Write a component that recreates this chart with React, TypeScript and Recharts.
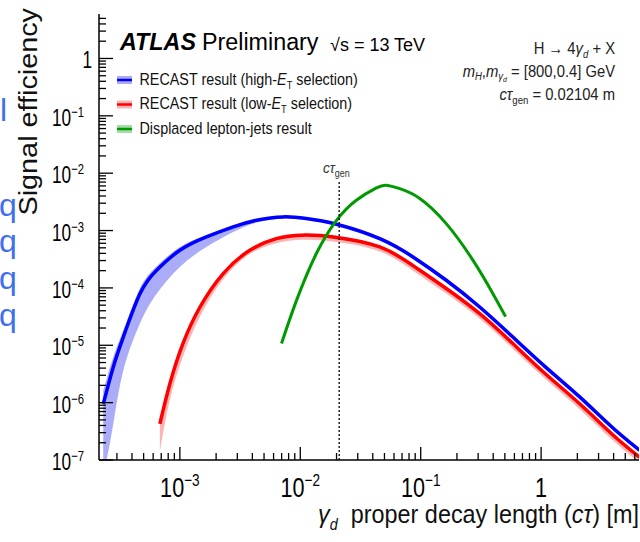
import {
  ComposedChart,
  Line,
  Area,
  XAxis,
  YAxis,
  ReferenceLine
} from "recharts"

const FONT = "'Liberation Sans', Arial, Helvetica, sans-serif"

// RECAST result, high-ET selection (central value + band)
const blueX = [2.31e-4, 2.8e-4, 3.39e-4, 4.66e-4, 6.41e-4, 1.0e-3, 1.66e-3, 2.77e-3, 4.33e-3, 7.19e-3, 1.12e-2, 2.0e-2, 4.57e-2, 8.63e-2, 0.163, 0.309, 0.583, 1.09, 2.09, 3.89, 6.56]
const blueY = [9.5e-7, 4.2e-6, 1.39e-5, 7.9e-5, 2.03e-4, 4.53e-4, 7.74e-4, 1.16e-3, 1.51e-3, 1.73e-3, 1.62e-3, 1.29e-3, 7.24e-4, 3.47e-4, 1.36e-4, 4.65e-5, 1.39e-5, 4.17e-6, 1.26e-6, 3.72e-7, 1.48e-7]
const blueLow = [5e-8, 4.3e-7, 3.63e-6, 2.4e-5, 7.94e-5, 2.32e-4, 5.18e-4, 9.46e-4, 1.38e-3, 1.62e-3, 1.52e-3, 1.2e-3, 6.7e-4, 3.2e-4, 1.25e-4, 4.3e-5, 1.28e-5, 3.85e-6, 1.16e-6, 3.42e-7, 1.36e-7]
const blueHigh = [1.62e-6, 6.3e-6, 1.82e-5, 9.8e-5, 2.38e-4, 5.18e-4, 8.3e-4, 1.2e-3, 1.58e-3, 1.82e-3, 1.7e-3, 1.36e-3, 7.7e-4, 3.7e-4, 1.45e-4, 4.95e-5, 1.48e-5, 4.45e-6, 1.35e-6, 3.98e-7, 1.58e-7]

// RECAST result, low-ET selection
const redX = [6.82e-4, 8.26e-4, 1.06e-3, 1.47e-3, 2.29e-3, 3.81e-3, 6.34e-3, 1.05e-2, 2.0e-2, 4.57e-2, 8.63e-2, 0.163, 0.309, 0.583, 1.09, 2.09, 3.89, 6.56]
const redY = [4.27e-7, 2.14e-6, 1.07e-5, 4.65e-5, 1.78e-4, 4.53e-4, 7.24e-4, 8.32e-4, 7.59e-4, 5.18e-4, 2.45e-4, 9.77e-5, 3.55e-5, 1.07e-5, 3.16e-6, 9.55e-7, 2.82e-7, 1.12e-7]
const redLow = [1.4e-7, 1.12e-6, 6.3e-6, 3.16e-5, 1.41e-4, 3.9e-4, 6.0e-4, 6.9e-4, 6.3e-4, 4.3e-4, 2.0e-4, 8.0e-5, 2.9e-5, 8.7e-6, 2.55e-6, 7.7e-7, 2.25e-7, 8.9e-8]
const redHigh = [5.0e-7, 2.4e-6, 1.17e-5, 5.0e-5, 1.9e-4, 4.8e-4, 7.8e-4, 8.9e-4, 8.1e-4, 5.5e-4, 2.6e-4, 1.03e-4, 3.7e-5, 1.12e-5, 3.3e-6, 1.0e-6, 2.95e-7, 1.18e-7]

// displaced lepton-jets result
const greenX = [6.98e-3, 9.29e-3, 1.36e-2, 2.0e-2, 2.92e-2, 4.29e-2, 5.19e-2, 6.7e-2, 9.82e-2, 0.163, 0.272, 0.398, 0.507]
const greenY = [1.07e-5, 6.0e-5, 3.98e-4, 1.51e-3, 3.38e-3, 5.55e-3, 6.17e-3, 5.37e-3, 3.63e-3, 1.32e-3, 3.02e-4, 7.94e-5, 3.16e-5]

const xMajorTicks = [0.001, 0.01, 0.1, 1]
const yMajorTicks = [1e-7, 1e-6, 1e-5, 1e-4, 1e-3, 1e-2, 1e-1, 1]
const minorSteps = [2, 3, 4, 5, 6, 7, 8, 9]

const xDomain = [2.13e-4, 6.5]
const yDomain = [1e-7, 5.96]
const ctauGen = 0.02104
const ctauLineTop = 7.6e-3

const blueRows = blueX.map((x, i) => ({ x, y: blueY[i], band: [blueLow[i], blueHigh[i]] }))
const redRows = redX.map((x, i) => ({ x, y: redY[i], band: [redLow[i], redHigh[i]] }))
const greenRows = greenX.map((x, i) => ({ x, y: greenY[i] }))

function withMinor(majors: number[], lo: number, hi: number) {
  const out: number[] = []
  ;[majors[0] / 10, ...majors].forEach(d => {
    if (d >= lo && d <= hi) out.push(d)
    minorSteps.forEach(m => {
      const v = d * m
      if (v >= lo && v <= hi) out.push(v)
    })
  })
  return out
}

const xTicks = withMinor(xMajorTicks, xDomain[0], xDomain[1])
const yTicks = withMinor(yMajorTicks, yDomain[0], yDomain[1])

const isDecade = (v: number) => Math.abs(Math.log10(v) - Math.round(Math.log10(v))) < 1e-9

// text squeezed horizontally like the original picture
function T({ x, y, size, sx = 1, anchor = "start", weight = 400, italic = false, color = "#111", children }: any) {
  return (
    <g transform={`translate(${x},${y}) scale(${sx},1)`}>
      <text
        x={0}
        y={0}
        fontSize={size}
        fontFamily={FONT}
        textAnchor={anchor}
        fontWeight={weight}
        fontStyle={italic ? "italic" : "normal"}
        fill={color}
      >
        {children}
      </text>
    </g>
  )
}

function powLabel(v: number, sup: number, dy: number) {
  const e = Math.round(Math.log10(v))
  if (e === 0) return "1"
  return (
    <>
      10<tspan dy={-dy} fontSize={sup}>{"\u2212" + Math.abs(e)}</tspan>
    </>
  )
}

const LeftTick = (p: any) => {
  const { x, y, payload } = p
  const major = isDecade(payload.value)
  const one = Math.abs(payload.value - 1) < 1e-9
  return (
    <g>
      <line x1={x} x2={x + (major ? 14 : 7)} y1={y} y2={y} stroke="#000" strokeWidth={1.3} />
      {major && (
        <T x={one ? x - 7 : x - 15} y={y + 10} size={23} sx={0.75} anchor="end" color="#000">
          {powLabel(payload.value, 15, 9)}
        </T>
      )}
    </g>
  )
}

const RightTick = (p: any) => {
  const { x, y, payload } = p
  const major = isDecade(payload.value)
  return <line x1={x} x2={x - (major ? 14 : 7)} y1={y} y2={y} stroke="#000" strokeWidth={1.3} />
}

const BottomTick = (p: any) => {
  const { x, y, payload } = p
  const major = isDecade(payload.value)
  return (
    <g>
      <line x1={x} x2={x} y1={y} y2={y - (major ? 13 : 7)} stroke="#000" strokeWidth={1.3} />
      {major && (
        <T x={x} y={y + 36.5} size={27} sx={0.8} anchor="middle" color="#000">
          {powLabel(payload.value, 17, 11)}
        </T>
      )}
    </g>
  )
}

const TopTick = (p: any) => {
  const { x, y, payload } = p
  const major = isDecade(payload.value)
  return <line x1={x} x2={x} y1={y} y2={y + (major ? 13 : 7)} stroke="#000" strokeWidth={1.3} />
}

function LegendRow({ y, line, band, children }: any) {
  return (
    <g>
      <rect x={117} y={y - 4} width={15} height={8} fill={band} />
      <line x1={117} x2={132} y1={y} y2={y} stroke={line} strokeWidth={2.5} />
      <T x={139.5} y={y + 4.5} size={17} sx={0.844}>
        {children}
      </T>
    </g>
  )
}

const BLUE = "#0000ff"
const RED = "#ff0000"
const GREEN = "#009a00"
const BLUE_BAND = "#aaacf8"
const RED_BAND = "#ffb4b4"
const ARTIFACT = "#3f6ff0"

export default function App() {
  return (
    <div style={{ position: "fixed", left: 0, top: 0, width: 640, height: 542, background: "#fff" }}>

      <ComposedChart width={640} height={542} margin={{ top: 14, right: 1, bottom: 0, left: 0 }}>

        <XAxis
          dataKey="x"
          type="number"
          scale="log"
          domain={xDomain}
          allowDataOverflow
          ticks={xTicks}
          interval={0}
          height={82}
          tickSize={0}
          tickMargin={0}
          tickLine={false}
          tick={<BottomTick />}
          axisLine={{ stroke: "#000", strokeWidth: 1.5 }}
        />
        <XAxis
          xAxisId="top"
          orientation="top"
          dataKey="x"
          type="number"
          scale="log"
          domain={xDomain}
          allowDataOverflow
          ticks={xTicks}
          interval={0}
          height={0}
          tickSize={0}
          tickMargin={0}
          tickLine={false}
          tick={<TopTick />}
          axisLine={{ stroke: "#000", strokeWidth: 1.5 }}
        />
        <YAxis
          type="number"
          scale="log"
          domain={yDomain}
          allowDataOverflow
          ticks={yTicks}
          interval={0}
          width={99}
          tickSize={0}
          tickMargin={0}
          tickLine={false}
          tick={<LeftTick />}
          axisLine={{ stroke: "#000", strokeWidth: 1.5 }}
        />
        <YAxis
          yAxisId="right"
          orientation="right"
          type="number"
          scale="log"
          domain={yDomain}
          allowDataOverflow
          ticks={yTicks}
          interval={0}
          width={0}
          tickSize={0}
          tickMargin={0}
          tickLine={false}
          tick={<RightTick />}
          axisLine={{ stroke: "#000", strokeWidth: 1.5 }}
        />

        {/* uncertainty bands */}
        <Area data={redRows} dataKey="band" type="natural" stroke="none" fill={RED_BAND} fillOpacity={1} isAnimationActive={false} />
        <Area data={blueRows} dataKey="band" type="natural" stroke="none" fill={BLUE_BAND} fillOpacity={1} isAnimationActive={false} />

        <Line data={redRows} dataKey="y" type="natural" stroke={RED} strokeWidth={3.5} dot={false} isAnimationActive={false} />
        <Line data={blueRows} dataKey="y" type="natural" stroke={BLUE} strokeWidth={3.5} dot={false} isAnimationActive={false} />
        <Line data={greenRows} dataKey="y" type="natural" stroke={GREEN} strokeWidth={3} dot={false} isAnimationActive={false} />

        <ReferenceLine
          segment={[{ x: ctauGen, y: yDomain[0] }, { x: ctauGen, y: ctauLineTop }]}
          stroke="#000"
          strokeWidth={1.3}
          strokeDasharray="2 2"
        />

      </ComposedChart>

      {/* annotations */}
      <svg
        width={640}
        height={542}
        style={{ position: "absolute", left: 0, top: 0, pointerEvents: "none" }}
      >
        {/* bits of a neighbouring slide at the left edge */}
        <T x={0} y={121} size={32} color={ARTIFACT}>l</T>
        <T x={-1} y={216} size={32} color={ARTIFACT}>q</T>
        <T x={-1} y={252} size={32} color={ARTIFACT}>q</T>
        <T x={-1} y={289} size={32} color={ARTIFACT}>q</T>
        <T x={-1} y={326} size={32} color={ARTIFACT}>q</T>

        <g transform="translate(37,8) scale(0.92,1) rotate(-90)">
          <text x={0} y={0} fontSize={28.8} fontFamily={FONT} textAnchor="end" fill="#111">
            Signal efficiency
          </text>
        </g>

        <T x={120} y={50} size={23.3} weight={700} italic color="#000">ATLAS</T>
        <T x={202} y={50} size={23.3} color="#000">Preliminary</T>
        <T x={330} y={51} size={18} color="#000">{"\u221As = 13 TeV"}</T>

        <LegendRow y={80} line={BLUE} band={BLUE_BAND}>
          RECAST result (high-<tspan fontStyle="italic">E</tspan>
          <tspan dy={4} fontSize={11}>T</tspan>
          <tspan dy={-4}> selection)</tspan>
        </LegendRow>
        <LegendRow y={104.5} line={RED} band={RED_BAND}>
          RECAST result (low-<tspan fontStyle="italic">E</tspan>
          <tspan dy={4} fontSize={11}>T</tspan>
          <tspan dy={-4}> selection)</tspan>
        </LegendRow>
        <LegendRow y={129} line={GREEN} band="#a8dca8">
          Displaced lepton-jets result
        </LegendRow>

        <T x={615} y={54} size={17} sx={0.87} anchor="end" color="#222">
          {"H \u2192 4"}<tspan fontStyle="italic">{"\u03B3"}</tspan>
          <tspan dy={4} fontSize={11} fontStyle="italic">d</tspan>
          <tspan dy={-4}>{" + X"}</tspan>
        </T>
        <T x={615} y={77} size={17} sx={0.87} anchor="end" color="#222">
          <tspan fontStyle="italic">m</tspan>
          <tspan dy={3} fontSize={11} fontStyle="italic">H</tspan>
          <tspan dy={-3}>,</tspan>
          <tspan fontStyle="italic">m</tspan>
          <tspan dy={3} fontSize={11} fontStyle="italic">{"\u03B3"}</tspan>
          <tspan dy={2} fontSize={8} fontStyle="italic">d</tspan>
          <tspan dy={-5}>{" = [800,0.4] GeV"}</tspan>
        </T>
        <T x={615} y={100} size={17} sx={0.87} anchor="end" color="#222">
          <tspan fontStyle="italic">{"c\u03C4"}</tspan>
          <tspan dy={4} fontSize={11}>gen</tspan>
          <tspan dy={-4}>{" = 0.02104 m"}</tspan>
        </T>

        <T x={323} y={173} size={15} sx={0.9} color="#333">
          <tspan fontStyle="italic">{"c\u03C4"}</tspan>
          <tspan dy={4} fontSize={10}>gen</tspan>
        </T>

        <T x={639} y={523} size={26} sx={0.9} anchor="end" color="#111">
          <tspan fontStyle="italic">{"\u03B3"}</tspan>
          <tspan dy={7} fontSize={16} fontStyle="italic">d</tspan>
          <tspan dy={-7}>{"\u00A0 proper decay length ("}</tspan>
          <tspan fontStyle="italic">{"c\u03C4"}</tspan>
          {") [m]"}
        </T>
      </svg>

    </div>
  )
}
